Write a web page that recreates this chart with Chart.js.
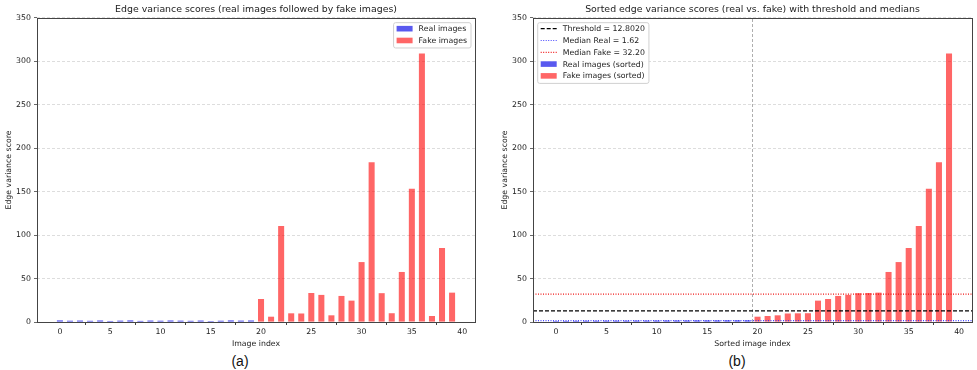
<!DOCTYPE html>
<html>
<head>
<meta charset="utf-8">
<script src="https://cdn.jsdelivr.net/npm/chart.js@4.4.1/dist/chart.umd.min.js"></script>
<style>
    body { margin: 0; background: #fff; }
    #wrap { position: relative; width: 977px; height: 370px; background: #fff; }
    canvas { position: absolute; top: 0; }
    .cap { position: absolute; top: 353px; width: 40px; text-align: center; font: 14px "Liberation Sans", Arial, sans-serif; color: #111; line-height: 16px; }
</style>
</head>
<body>
<div id="wrap">
    <canvas id="chartA" width="490" height="352" style="left:0px"></canvas>
    <canvas id="chartB" width="487" height="352" style="left:490px"></canvas>
    <div class="cap" style="left:220px">(a)</div>
    <div class="cap" style="left:717px">(b)</div>
</div>
<script>
// scores: 20 real images, then 20 fake images
const realScores = [1.9, 1.5, 1.7, 1.4, 1.8, 1.2, 1.6, 1.9, 1.3, 1.7, 1.5, 1.8, 1.6, 1.4, 1.7, 1.1, 1.5, 1.9, 1.64, 1.8]
const fakeScores = [26.5, 6.1, 110.5, 10.0, 9.8, 33.4, 31.2, 7.7, 30.0, 24.6, 69.0, 184.0, 33.2, 10.1, 57.6, 153.5, 309.0, 6.9, 85.2, 33.8]
const threshold = 12.8020
const medianReal = 1.62
const medianFake = 32.20
const splitAt = 19.5
const xTicks = [0, 5, 10, 15, 20, 25, 30, 35, 40]
const yTicks = [0, 50, 100, 150, 200, 250, 300, 350]
const xMin = -2.28
const xMax = 41.28

const FONT = 'DejaVu Sans'
const RED = 'rgba(255,0,0,0.6)'
const BLUE = 'rgba(0,0,230,0.65)'

const toPoints = (vals, start) => vals.map((v, i) => ({ x: start + i, y: v }))

// axes frame (all four spines)
const framePlugin = {
    id: 'frame',
    afterDatasetsDraw(chart) {
        const a = chart.chartArea
        const ctx = chart.ctx
        ctx.save()
        ctx.strokeStyle = '#444'
        ctx.lineWidth = 1
        ctx.strokeRect(Math.round(a.left) + 0.5, Math.round(a.top) + 0.5, Math.round(a.right - a.left), Math.round(a.bottom - a.top))
        ctx.restore()
    }
}

// legend box drawn inside the plot area, like matplotlib
const boxLegendPlugin = {
    id: 'boxLegend',
    afterDraw(chart, args, opts) {
        const ctx = chart.ctx
        const a = chart.chartArea
        const items = chart.data.datasets.filter(d => d.label)
        ctx.save()
        ctx.font = '7.8px "' + FONT + '"'
        let textW = 0
        items.forEach(d => { textW = Math.max(textW, ctx.measureText(d.label).width) })
        const rowH = 11.8
        const w = 25 + textW + 4
        const h = 6 + rowH * (items.length - 1) + 7.5
        const left = opts.align === 'right' ? a.right - 4 - w : a.left + 4.7
        const top = a.top + 4.7
        ctx.fillStyle = 'rgba(255,255,255,0.85)'
        ctx.strokeStyle = '#d0d0d0'
        ctx.lineWidth = 1
        ctx.beginPath()
        ctx.roundRect(left, top, w, h, 2)
        ctx.fill()
        ctx.stroke()
        items.forEach((d, i) => {
            const y = top + 6 + i * rowH
            if (d.type === 'line') {
                ctx.strokeStyle = d.borderColor
                ctx.lineWidth = d.borderWidth
                ctx.setLineDash(d.borderDash || [])
                ctx.beginPath()
                ctx.moveTo(left + 3, y)
                ctx.lineTo(left + 19, y)
                ctx.stroke()
                ctx.setLineDash([])
            } else {
                ctx.fillStyle = d.backgroundColor
                ctx.fillRect(left + 3, y - 2.8, 16, 5.6)
            }
            ctx.fillStyle = '#222'
            ctx.textBaseline = 'middle'
            ctx.fillText(d.label, left + 25, y + 0.5)
        })
        ctx.restore()
    }
}

function makeOptions(title, xTitle, yWidth, padLeft, padRight, legendAlign) {
    return {
        responsive: false,
        animation: false,
        devicePixelRatio: 1,
        layout: { padding: { left: padLeft, right: padRight, top: 0, bottom: 0 } },
        datasets: { bar: { grouped: false, barPercentage: 0.6, categoryPercentage: 1 } },
        plugins: {
            legend: { display: false },
            tooltip: { enabled: false },
            title: {
                display: true,
                fullSize: false,
                text: title,
                color: '#222',
                font: { family: FONT, size: 9.4, weight: 'normal', lineHeight: 1.2 },
                padding: { top: 3.5, bottom: 3.2 },
            },
            boxLegend: { align: legendAlign },
        },
        scales: {
            x: {
                type: 'linear',
                offset: false,
                min: xMin,
                max: xMax,
                afterBuildTicks(scale) { scale.ticks = xTicks.map(v => ({ value: v })) },
                afterFit(scale) { scale.height = 30 },
                grid: { drawOnChartArea: false, drawTicks: true, tickLength: 3, tickColor: '#444' },
                border: { display: false },
                ticks: { color: '#222', padding: 2, maxRotation: 0, font: { family: FONT, size: 7.8 } },
                title: { display: true, text: xTitle, color: '#222', padding: { top: 2, bottom: 3 }, font: { family: FONT, size: 7.8 } },
            },
            y: {
                min: 0,
                max: 350,
                afterBuildTicks(scale) { scale.ticks = yTicks.map(v => ({ value: v })) },
                afterFit(scale) { scale.width = yWidth },
                grid: { color: '#d4d4d4', lineWidth: 0.8, tickLength: 3, tickColor: '#444' },
                border: { display: false, dash: [3, 2] },
                ticks: { color: '#222', padding: 3, font: { family: FONT, size: 7.8 } },
                title: { display: true, text: 'Edge variance score', color: '#222', padding: { top: 4, bottom: 2 }, font: { family: FONT, size: 7.8 } },
            },
        },
    }
}

// (a) unsorted, real first then fake
new Chart(document.getElementById('chartA'), {
    type: 'bar',
    data: {
        datasets: [
            { label: 'Real images', data: toPoints(realScores, 0), backgroundColor: BLUE },
            { label: 'Fake images', data: toPoints(fakeScores, realScores.length), backgroundColor: RED },
        ]
    },
    options: makeOptions('Edge variance scores (real images followed by fake images)', 'Image index', 37, 0, 15, 'right'),
    plugins: [framePlugin, boxLegendPlugin],
})

// (b) each group sorted, with threshold and medians
const realSorted = [...realScores].sort((a, b) => a - b)
const fakeSorted = [...fakeScores].sort((a, b) => a - b)

const hLine = (y) => [{ x: xMin, y: y }, { x: xMax, y: y }]

new Chart(document.getElementById('chartB'), {
    type: 'bar',
    data: {
        datasets: [
            { type: 'line', label: 'Threshold = ' + threshold.toFixed(4), data: hLine(threshold), borderColor: '#000', borderWidth: 1.2, borderDash: [4, 2], pointRadius: 0, order: 0 },
            { type: 'line', label: 'Median Real = ' + medianReal.toFixed(2), data: hLine(medianReal), borderColor: 'rgba(40,40,255,0.85)', borderWidth: 1.2, borderDash: [1, 1.5], pointRadius: 0, order: 0 },
            { type: 'line', label: 'Median Fake = ' + medianFake.toFixed(2), data: hLine(medianFake), borderColor: 'rgba(240,0,0,0.9)', borderWidth: 1.2, borderDash: [1, 1.5], pointRadius: 0, order: 0 },
            { label: 'Real images (sorted)', data: toPoints(realSorted, 0), backgroundColor: BLUE, order: 1 },
            { label: 'Fake images (sorted)', data: toPoints(fakeSorted, realSorted.length), backgroundColor: RED, order: 1 },
            { type: 'line', data: [{ x: splitAt, y: 0 }, { x: splitAt, y: 350 }], borderColor: '#999', borderWidth: 0.8, borderDash: [3, 2], pointRadius: 0, order: 0 },
        ]
    },
    options: makeOptions('Sorted edge variance scores (real vs. fake) with threshold and medians', 'Sorted image index', 36.5, 6.5, 5, 'left'),
    plugins: [framePlugin, boxLegendPlugin],
})
</script>
</body>
</html>
